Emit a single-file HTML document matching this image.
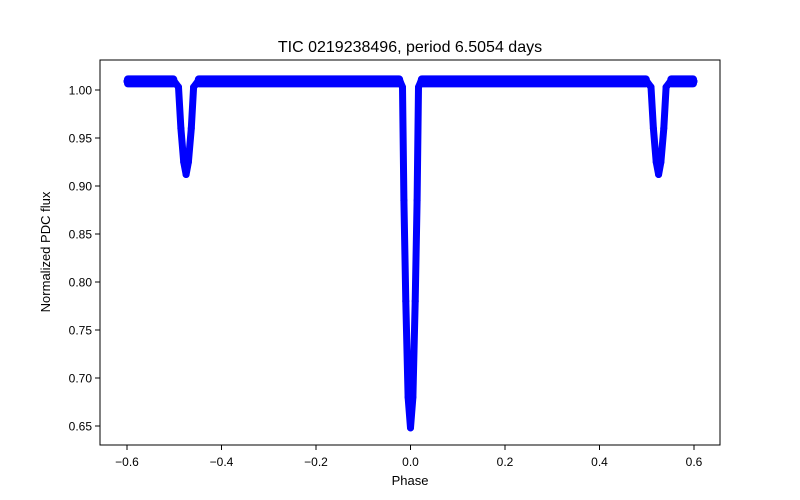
<!DOCTYPE html>
<html><head><meta charset="utf-8"><style>
body{margin:0;background:#fff}
svg{display:block;font-family:"Liberation Sans","DejaVu Sans",sans-serif}
</style></head><body>
<svg width="800" height="500" viewBox="0 0 800 500">
<rect x="0" y="0" width="800" height="500" fill="#fff"/>
<g id="plot"></g>
<rect x="100" y="60" width="620" height="385" fill="none" stroke="#000" stroke-width="1"/>
<g id="xt"></g>
<g id="yt"></g>
<text x="410" y="52" text-anchor="middle" font-size="16">TIC 0219238496, period 6.5054 days</text>
<text x="410" y="485" text-anchor="middle" font-size="13">Phase</text>
<text x="50" y="252" text-anchor="middle" font-size="13" transform="rotate(-90 50 252)">Normalized PDC flux</text>
</svg>
<script>
const phase = [-0.60,-0.50,-0.491,-0.486,-0.480,-0.475,-0.470,-0.464,-0.459,-0.45,
  -0.022,-0.017,-0.014,-0.010,-0.005,0,0.005,0.010,0.014,0.017,0.022,
  0.50,0.509,0.514,0.520,0.525,0.530,0.536,0.541,0.55,0.60];
const flux = [1.009,1.009,1.003,0.960,0.925,0.912,0.925,0.960,1.003,1.009,
  1.009,1.003,0.885,0.780,0.680,0.648,0.680,0.780,0.885,1.003,1.009,
  1.009,1.003,0.960,0.925,0.912,0.925,0.960,1.003,1.009,1.009];
const xTicks = [-0.6,-0.4,-0.2,0.0,0.2,0.4,0.6];
const xTickLabels = ["−0.6","−0.4","−0.2","0.0","0.2","0.4","0.6"];
const yTicks = [0.65,0.70,0.75,0.80,0.85,0.90,0.95,1.00];
const yTickLabels = ["0.65","0.70","0.75","0.80","0.85","0.90","0.95","1.00"];

const NS="http://www.w3.org/2000/svg";
const xs = v => 410.5 + v*472.5;
const ys = v => 90 + (1.0 - v)*960;
function mk(tag, attrs, parent){const e=document.createElementNS(NS,tag);for(const k in attrs)e.setAttribute(k,attrs[k]);parent.appendChild(e);return e;}
const plot=document.getElementById('plot');
const pts=phase.map((p,i)=>xs(p).toFixed(1)+','+ys(flux[i]).toFixed(1)).join(' ');
const band=mk('polyline',{points:pts,fill:'none',stroke:'#0000ff','stroke-width':7,'stroke-linejoin':'round','stroke-linecap':'round'},plot);


phase.forEach((p,i)=>{
  const c=mk('circle',{cx:xs(p),cy:ys(flux[i]),r:3.5,fill:'#0000ff'},plot);
  
  
});
for(let i=0;i<phase.length-1;i++){
  if(flux[i]>1.005 && flux[i+1]>1.005){
    const r=mk('rect',{x:xs(phase[i])-3,y:ys(flux[i])-6,width:xs(phase[i+1])-xs(phase[i])+6,height:12,rx:4,fill:'#0000ff'},plot);
    
    
  }
}
const xt=document.getElementById('xt');
xTicks.forEach((t,i)=>{
  const l=mk('line',{x1:xs(t),x2:xs(t),y1:445,y2:450,stroke:'#000'},xt);
  
  
  const tx=mk('text',{x:xs(t),y:466,'text-anchor':'middle','font-size':12},xt);
  tx.textContent=xTickLabels[i];
  
  
});
const yt=document.getElementById('yt');
yTicks.forEach((t,i)=>{
  const l=mk('line',{x1:95,x2:100,y1:ys(t),y2:ys(t),stroke:'#000'},yt);
  
  
  const tx=mk('text',{x:92,y:ys(t)+4.5,'text-anchor':'end','font-size':12},yt);
  tx.textContent=yTickLabels[i];
  
  
});
</script>
</body></html>
